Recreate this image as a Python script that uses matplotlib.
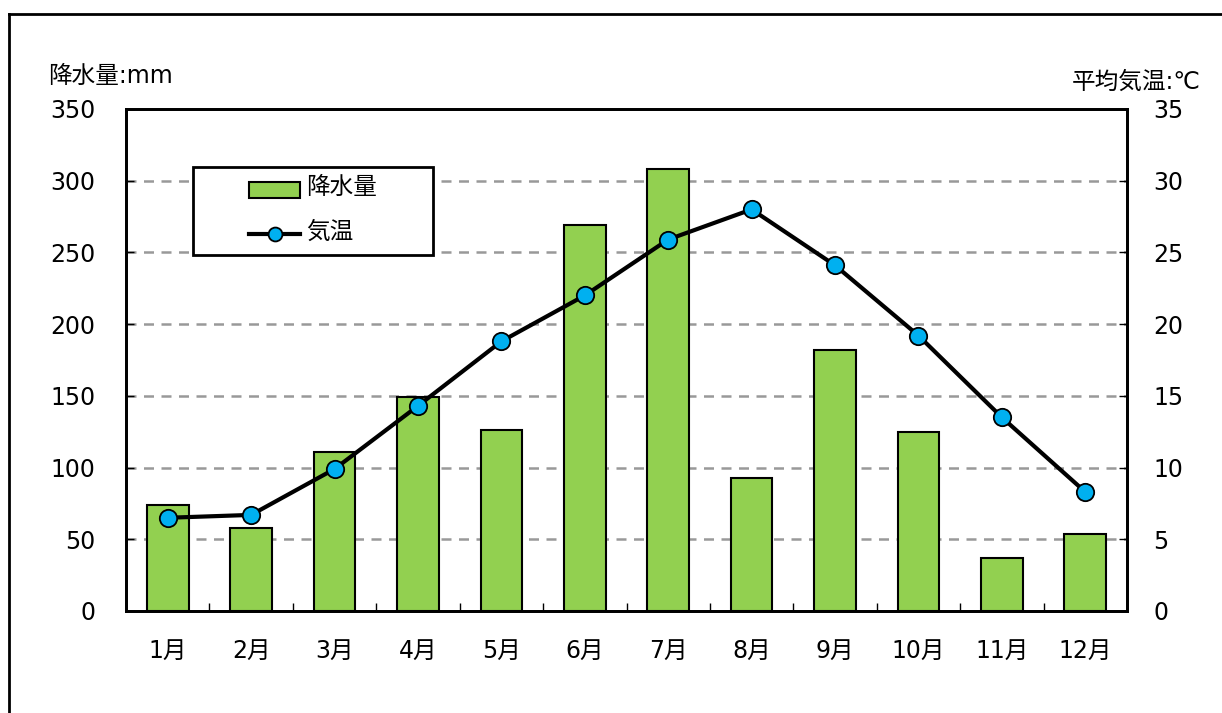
import matplotlib.pyplot as plt
from matplotlib.lines import Line2D
from matplotlib.patches import Rectangle

plt.rcParams['font.family'] = ['DejaVu Sans', 'Noto Sans CJK JP']

months = ["1月", "2月", "3月", "4月", "5月", "6月",
          "7月", "8月", "9月", "10月", "11月", "12月"]
rainfall = [74, 58, 111, 149, 126, 269, 308, 93, 182, 125, 37, 54]
temperature = [6.5, 6.7, 9.9, 14.3, 18.8, 22.0, 25.9, 28.0, 24.1, 19.2, 13.5, 8.3]
rain_ticks = [0, 50, 100, 150, 200, 250, 300, 350]
temp_ticks = [0, 5, 10, 15, 20, 25, 30, 35]

BAR_COLOR = "#92D050"
MARKER_COLOR = "#00B0F0"
FS = 17
W, H = 1222, 713


def fx(px):
    return px / W


def fy(py):
    return 1 - py / H


fig = plt.figure(figsize=(W / 100, H / 100), dpi=100)
ax = fig.add_axes([fx(126), fy(611), fx(1127 - 126), (611 - 109) / H])

x = list(range(len(months)))
ax.bar(x, rainfall, width=0.5, color=BAR_COLOR, edgecolor="black", linewidth=1.5, zorder=3)
ax.set_xlim(-0.5, len(months) - 0.5)
ax.set_ylim(0, 350)
ax.set_yticks(rain_ticks)
ax.set_xticks(x)
ax.set_xticklabels(months)
ax.set_xticks([i + 0.5 for i in range(len(months) - 1)], minor=True)
ax.tick_params(axis="x", which="major", length=0, pad=20, labelsize=FS)
ax.tick_params(axis="x", which="minor", direction="in", length=6, width=1)
ax.tick_params(axis="y", direction="in", length=6, width=1, labelsize=FS, pad=22)
ax.grid(axis="y", color="#999999", linestyle=(0, (4, 3)), linewidth=1.8, zorder=0)
for s in ax.spines.values():
    s.set_linewidth(2)

ax2 = ax.twinx()
ax2.plot(x, temperature, color="black", linewidth=3, marker="o", markersize=12.5,
         markerfacecolor=MARKER_COLOR, markeredgecolor="black", markeredgewidth=1.3, zorder=4)
ax2.set_ylim(0, 35)
ax2.set_yticks(temp_ticks)
ax2.tick_params(axis="y", direction="in", length=6, width=1, labelsize=FS, pad=19)
for s in ax2.spines.values():
    s.set_linewidth(2)

fig.text(fx(48), fy(76), "降水量:mm", fontsize=FS, ha="left", va="center")
fig.text(fx(1201), fy(82), "平均気温:℃", fontsize=FS, ha="right", va="center")

# legend box
tf = fig.transFigure
fig.add_artist(Rectangle((fx(193), fy(255)), fx(433 - 193), (255 - 167) / H, transform=tf,
                         facecolor="white", edgecolor="black", linewidth=2, zorder=10))
fig.add_artist(Rectangle((fx(249), fy(198)), fx(300 - 249), (198 - 182) / H, transform=tf,
                         facecolor=BAR_COLOR, edgecolor="black", linewidth=1.5, zorder=11))
fig.add_artist(Line2D([fx(249), fx(300)], [fy(234), fy(234)], transform=tf, color="black",
                      linewidth=3, zorder=11))
fig.add_artist(Line2D([fx(274.5)], [fy(234)], transform=tf, marker="o", markersize=10,
                      markerfacecolor=MARKER_COLOR, markeredgecolor="black",
                      markeredgewidth=1.3, zorder=12))
fig.text(fx(306), fy(187), "降水量", fontsize=FS, ha="left", va="center", zorder=12)
fig.text(fx(306), fy(232), "気温", fontsize=FS, ha="left", va="center", zorder=12)

# outer frame (top and left edges visible)
fig.add_artist(Line2D([fx(9), fx(9)], [0, fy(14)], color="black", linewidth=2, transform=tf))
fig.add_artist(Line2D([fx(9), 1], [fy(14), fy(14)], color="black", linewidth=2, transform=tf))

fig.savefig("out.png", dpi=100)
